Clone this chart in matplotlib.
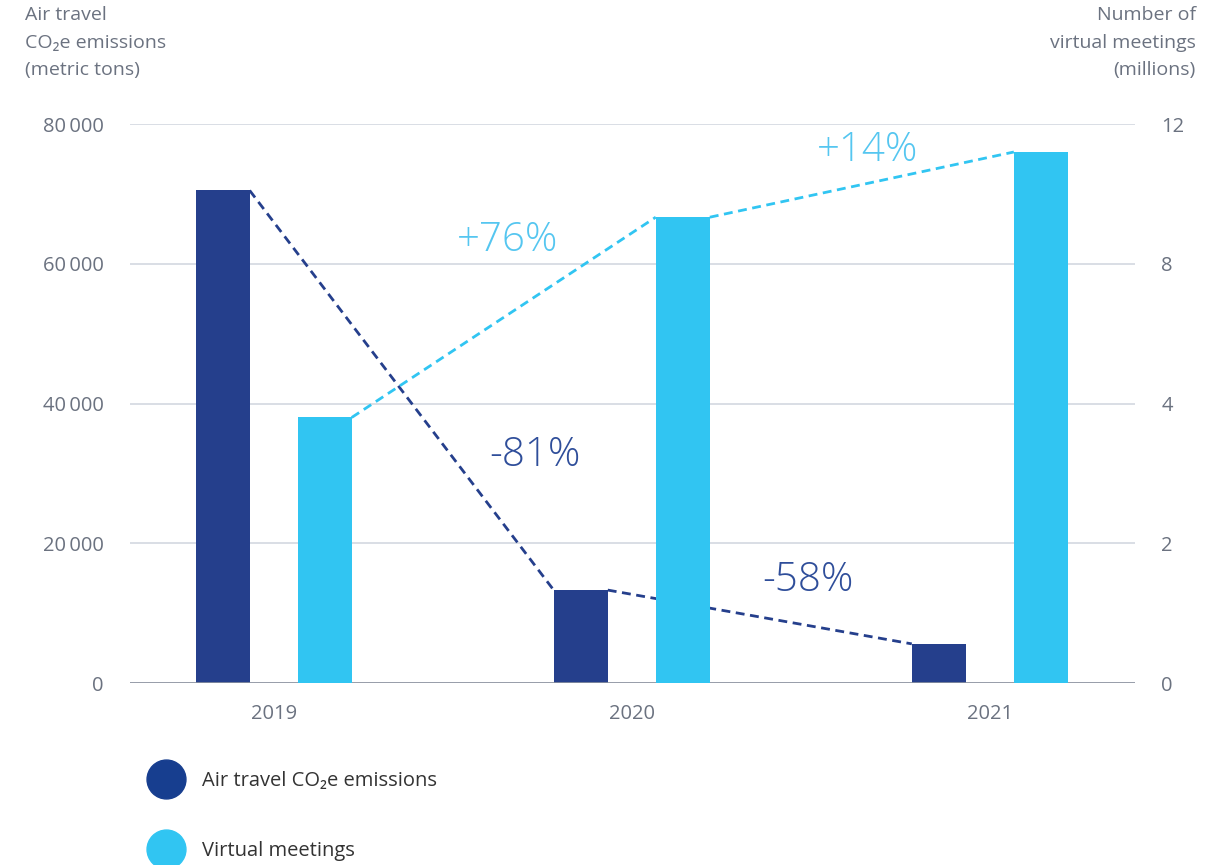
import numpy as np
import matplotlib.pyplot as plt
from matplotlib.lines import Line2D

plt.rcParams['font.family'] = ['Open Sans', 'DejaVu Sans']

# data
years = ['2019', '2020', '2021']
air_travel = [70500, 13300, 5600]        # metric tons CO2e
meetings = [5.7, 10.0, 11.4]             # millions
air_changes = ['-81%', '-58%']
meeting_changes = ['+76%', '+14%']
left_ticks = [0, 20000, 40000, 60000, 80000]
left_labels = ['0', '20\u2009000', '40\u2009000', '60\u2009000', '80\u2009000']
right_ticks = [0, 3, 6, 9, 12]
right_labels = ['0', '2', '4', '8', '12']

DARK = '#253F8C'
LIGHT = '#31C5F2'
DARK_TXT = '#2F4E9A'
LIGHT_TXT = '#55C6F0'
GRID = '#D3D8E0'
TICK = '#6B7280'

fig = plt.figure(figsize=(12.25, 8.65), dpi=100)
ax = fig.add_axes([0.106, 0.2104, 0.8206, 0.6462])
ax2 = ax.twinx()

x = np.arange(len(years))
off, w = 0.143, 0.151
off2 = 0.142
ax.bar(x - off, air_travel, w, color=DARK, zorder=2)
ax2.bar(x + off2, meetings, w, color=LIGHT, zorder=2)

# dashed connectors: right-top of one bar to left-top of the next
for i in range(len(years) - 1):
    ax.plot([x[i] - off + w / 2, x[i + 1] - off - w / 2], [air_travel[i], air_travel[i + 1]],
            ls=(0, (3.2, 2)), color=DARK, lw=2, zorder=5, clip_on=False)
    ax2.plot([x[i] + off2 + w / 2, x[i + 1] + off2 - w / 2], [meetings[i], meetings[i + 1]],
             ls=(0, (3.2, 2)), color=LIGHT, lw=2, zorder=5, clip_on=False)

ax.set_xlim(-0.402, 2.405)
ax.set_ylim(0, 80000)
ax2.set_ylim(0, 12)
ax.set_yticks(left_ticks)
ax.set_yticklabels(left_labels)
ax2.set_yticks(right_ticks)
ax2.set_yticklabels(right_labels)
ax.set_xticks(x)
ax.set_xticklabels(years)

ax.grid(axis='y', color=GRID, lw=1.2, zorder=0)
ax.set_axisbelow(True)
for a in (ax, ax2):
    for s in a.spines.values():
        s.set_visible(False)
    a.tick_params(length=0, labelsize=14.5, labelcolor=TICK)
ax.tick_params(axis='y', pad=19)
ax2.tick_params(axis='y', pad=19)
ax.tick_params(axis='x', pad=15)
ax.axhline(0, color='#8C93A0', lw=1.2, zorder=3)

# change annotations
ann = dict(fontsize=29, fontweight='light', ha='center', va='center', zorder=6)
ax.text(0.729, 32600, air_changes[0], color=DARK_TXT, **ann)
ax.text(1.492, 14600, air_changes[1], color=DARK_TXT, **ann)
ax2.text(0.654, 9.51, meeting_changes[0], color=LIGHT_TXT, **ann)
ax2.text(1.659, 11.44, meeting_changes[1], color=LIGHT_TXT, **ann)

# axis titles
fig.text(25 / 1225, 1 - 6 / 865, 'Air travel\nCO\u2082e emissions\n(metric tons)',
         ha='left', va='top', fontsize=14, color=TICK, linespacing=1.68)
fig.text(1196 / 1225, 1 - 6 / 865, 'Number of\nvirtual meetings\n(millions)',
         ha='right', va='top', fontsize=14, color=TICK, linespacing=1.68)

# legend
for yy, col, lab in [(779, '#173E8F', 'Air travel CO\u2082e emissions'),
                     (849, LIGHT, 'Virtual meetings')]:
    fig.add_artist(Line2D([166 / 1225], [1 - yy / 865], marker='o', markersize=28,
                          color=col, transform=fig.transFigure))
    fig.text(202 / 1225, 1 - (yy + 2) / 865, lab, ha='left', va='center', fontsize=14.5,
             color='#333333')

fig.savefig('out.png', dpi=100)
